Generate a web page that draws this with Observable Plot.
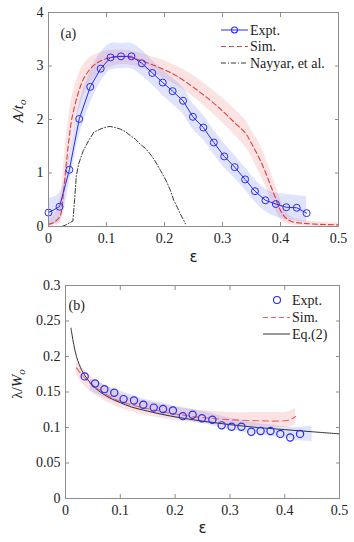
<!DOCTYPE html>
<html><head><meta charset="utf-8">
<script src="https://cdn.jsdelivr.net/npm/d3@7"></script>
<script src="https://cdn.jsdelivr.net/npm/@observablehq/plot@0.6"></script>
<style>
html,body{margin:0;padding:0;background:#fff;}
#chart{width:354px;}
#chart svg{display:block;}
</style></head><body><div id="chart"></div>
<script>
// ---------- Panel (a) data ----------
const aExptX = [0,0.019,0.036,0.053,0.072,0.090,0.107,0.125,0.143,0.161,0.179,0.197,0.214,0.232,0.249,0.267,0.285,0.303,0.321,0.339,0.356,0.374,0.392,0.410,0.428,0.445];
const aExptY = [0.26,0.37,1.06,2.01,2.61,2.95,3.16,3.18,3.18,3.05,2.87,2.69,2.53,2.35,2.05,1.85,1.57,1.31,1.11,0.88,0.66,0.49,0.42,0.36,0.35,0.25];
const aExptLo = [0.02,0.10,0.80,1.70,2.30,2.70,2.92,2.95,2.95,2.82,2.65,2.45,2.28,2.10,1.82,1.62,1.35,1.10,0.90,0.68,0.46,0.28,0.18,0.12,0.10,0.08];
const aExptHi = [0.52,0.62,1.35,2.30,2.90,3.25,3.42,3.42,3.42,3.30,3.10,2.92,2.77,2.60,2.30,2.08,1.80,1.55,1.33,1.10,0.88,0.70,0.62,0.60,0.58,0.56];

const aSimX  = [0,0.01,0.02,0.025,0.03,0.035,0.04,0.05,0.06,0.07,0.08,0.10,0.12,0.14,0.16,0.18,0.20,0.22,0.25,0.28,0.30,0.32,0.34,0.35,0.36,0.37,0.38,0.39,0.40,0.41,0.42,0.44,0.47,0.5];
const aSimY  = [0.04,0.08,0.20,0.55,1.10,1.60,2.00,2.45,2.75,2.92,3.03,3.14,3.18,3.16,3.10,3.02,2.93,2.82,2.60,2.35,2.16,1.95,1.74,1.55,1.35,1.12,0.85,0.57,0.30,0.15,0.09,0.06,0.04,0.03];
const aSimLo = [0,0.02,0.06,0.28,0.70,1.20,1.62,2.08,2.42,2.64,2.79,2.95,3.02,3.02,2.96,2.87,2.76,2.64,2.42,2.14,1.94,1.72,1.48,1.30,1.08,0.86,0.60,0.34,0.14,0.05,0.03,0.01,0,0];
const aSimHi = [0.12,0.22,0.50,1.00,1.60,2.05,2.38,2.78,3.02,3.14,3.21,3.28,3.30,3.28,3.24,3.17,3.10,3.00,2.82,2.58,2.40,2.20,1.98,1.80,1.62,1.40,1.12,0.82,0.50,0.28,0.17,0.11,0.08,0.07];

const aNayX = [0.023,0.030,0.038,0.042,0.045,0.048,0.052,0.060,0.069,0.078,0.089,0.100,0.106,0.115,0.124,0.133,0.141,0.150,0.158,0.167,0.175,0.184,0.193,0.199,0.204,0.210,0.216,0.222,0.227,0.232,0.236];
const aNayY = [0,0.03,0.08,0.10,0.50,0.95,1.17,1.42,1.60,1.76,1.82,1.86,1.87,1.85,1.82,1.77,1.70,1.63,1.54,1.46,1.36,1.22,1.05,0.93,0.83,0.68,0.49,0.36,0.24,0.14,0.05];

const aXTicks = [0,0.1,0.2,0.3,0.4,0.5];
const aYTicks = [0,1,2,3,4];

// ---------- Panel (b) data ----------
const bExptX = [0.035,0.054,0.071,0.089,0.106,0.125,0.142,0.161,0.178,0.196,0.214,0.232,0.249,0.268,0.285,0.303,0.321,0.339,0.356,0.374,0.392,0.410,0.428];
const bExptY = [0.172,0.162,0.154,0.149,0.140,0.138,0.132,0.128,0.126,0.124,0.116,0.118,0.113,0.111,0.103,0.101,0.101,0.094,0.095,0.095,0.091,0.086,0.091];
const bBandX  = [0.045,0.06,0.08,0.10,0.12,0.14,0.16,0.18,0.20,0.22,0.24,0.26,0.28,0.30,0.32,0.34,0.36,0.38,0.40,0.42,0.45];
const bBandLo = [0.152,0.146,0.139,0.133,0.128,0.124,0.120,0.116,0.113,0.110,0.107,0.104,0.100,0.097,0.094,0.091,0.089,0.087,0.085,0.082,0.080];
const bBandHi = [0.168,0.164,0.157,0.151,0.146,0.141,0.137,0.134,0.130,0.127,0.124,0.121,0.117,0.113,0.110,0.107,0.105,0.103,0.101,0.100,0.102];

const bSimX  = [0.02,0.03,0.04,0.05,0.06,0.08,0.10,0.13,0.16,0.20,0.25,0.30,0.35,0.38,0.40,0.41,0.42];
const bSimY  = [0.184,0.174,0.166,0.159,0.154,0.144,0.137,0.130,0.125,0.119,0.114,0.111,0.1095,0.109,0.1095,0.111,0.1155];
const bSimLo = [0.174,0.163,0.155,0.148,0.143,0.134,0.127,0.120,0.115,0.110,0.106,0.103,0.101,0.100,0.100,0.101,0.104];
const bSimHi = [0.194,0.185,0.177,0.170,0.165,0.155,0.148,0.140,0.135,0.129,0.124,0.121,0.121,0.121,0.121,0.123,0.127];

const bEqX = [0.01,0.015,0.02,0.025,0.03,0.04,0.05,0.06,0.08,0.10,0.12,0.15,0.20,0.25,0.30,0.35,0.40,0.45,0.50];
const bEqY = [0.240,0.217,0.200,0.189,0.180,0.168,0.159,0.152,0.142,0.135,0.129,0.123,0.115,0.109,0.104,0.100,0.097,0.094,0.091];

const bXTicks = [0,0.1,0.2,0.3,0.4,0.5];
const bYTicks = [0,0.05,0.1,0.15,0.2,0.25,0.3];

// ---------- helpers ----------
const rows = (xs, cols) => xs.map((x, i) => { const r = {x}; for (const k in cols) r[k] = cols[k][i]; return r; });
const GRAY = "#8c8c8c", INK = "#222";
const SERIF = "'Liberation Serif', 'Times New Roman', Times, serif";
const BLUE = "#2b2bf2", RED = "#e23b3b";
const fmt = d3.format("~g");

function axes(xt, yt, xpad, ypad) {
  return [
    Plot.axisX(xt, {anchor: "bottom", tickSize: -4, tickPadding: xpad, tickFormat: fmt, stroke: GRAY, fill: INK, fontSize: 14, fontFamily: SERIF, label: null}),
    Plot.axisX(xt, {anchor: "top", tickSize: -4, tickFormat: () => "", stroke: GRAY, label: null}),
    Plot.axisY(yt, {anchor: "left", tickSize: -4, tickPadding: ypad, tickFormat: fmt, stroke: GRAY, fill: INK, fontSize: 14, fontFamily: SERIF, label: null}),
    Plot.axisY(yt, {anchor: "right", tickSize: -4, tickFormat: () => "", stroke: GRAY, label: null})
  ];
}

function yLabel(svg, x, y, main, sub) {
  const t = d3.select(svg).append("text")
    .attr("transform", `translate(${x},${y}) rotate(-90)`)
    .attr("text-anchor", "middle")
    .style("font-family", SERIF).attr("font-size", 15).attr("fill", INK);
  for (const [s, it] of main) t.append("tspan").attr("font-style", it ? "italic" : "normal").text(s);
  t.append("tspan").attr("font-style", "italic").attr("font-size", 11).attr("dy", 3).text(sub);
}

function legend(svg, items) {
  const g = d3.select(svg).append("g").style("font-family", SERIF).attr("font-size", 14).attr("fill", INK).attr("text-anchor", "start");
  for (const it of items) {
    if (it.line) g.append("line").attr("x1", it.x1).attr("x2", it.x2).attr("y1", it.y).attr("y2", it.y)
      .attr("stroke", it.stroke).attr("stroke-width", it.sw || 1).attr("stroke-dasharray", it.dash || null);
    if (it.dot) g.append("circle").attr("cx", it.dot).attr("cy", it.y).attr("r", it.r || 3)
      .attr("fill", "none").attr("stroke", BLUE).attr("stroke-width", 1.1);
    g.append("text").attr("x", it.tx).attr("y", it.y).attr("dy", "0.35em").attr("text-anchor", "start").text(it.label);
  }
}

// ---------- Panel (a) ----------
const aExpt = rows(aExptX, {y: aExptY, lo: aExptLo, hi: aExptHi});
const aSim = rows(aSimX, {y: aSimY, lo: aSimLo, hi: aSimHi});
const aNay = rows(aNayX, {y: aNayY});

const svgA = Plot.plot({
  width: 354, height: 270, marginLeft: 48, marginRight: 16, marginTop: 12, marginBottom: 44,
  style: {fontFamily: SERIF, fontSize: "14px", background: "#fff", color: INK},
  x: {domain: [0, 0.5]}, y: {domain: [0, 4]},
  marks: [
    Plot.areaY(aSim, {x: "x", y1: "lo", y2: "hi", fill: "#f05a5a", fillOpacity: 0.17, curve: "catmull-rom"}),
    Plot.areaY(aExpt, {x: "x", y1: "lo", y2: "hi", fill: "#5565f0", fillOpacity: 0.18, curve: "catmull-rom"}),
    Plot.line(aNay, {x: "x", y: "y", stroke: "#222", strokeWidth: 0.9, strokeDasharray: "5,2,1,2"}),
    Plot.line(aSim, {x: "x", y: "y", stroke: RED, strokeWidth: 1.1, strokeDasharray: "5,3", curve: "catmull-rom"}),
    Plot.line(aExpt, {x: "x", y: "y", stroke: BLUE, strokeWidth: 1}),
    Plot.dot(aExpt, {x: "x", y: "y", r: 3.5, stroke: BLUE, fill: "none", strokeWidth: 1}),
    Plot.frame({stroke: GRAY}),
    ...axes(aXTicks, aYTicks, 11, 9),
    Plot.text(["(a)"], {text: d => d, frameAnchor: "top-left", dx: 12, dy: 21, textAnchor: "start", lineAnchor: "middle", fontSize: 14, fontFamily: SERIF, fill: INK}),
    Plot.text(["ε"], {text: d => d, frameAnchor: "bottom", dy: 31, lineAnchor: "middle", fontFamily: "DejaVu Sans", fontSize: 15, fill: INK})
  ]
});
yLabel(svgA, 23, 111, [["A/t", true]], "o");
legend(svgA, [
  {y: 30, line: true, x1: 221, x2: 248, stroke: BLUE, dot: 234.5, r: 3, tx: 250, label: "Expt."},
  {y: 46.5, line: true, x1: 221, x2: 248, stroke: RED, dash: "5,3", tx: 250, label: "Sim."},
  {y: 63, line: true, x1: 221, x2: 248, stroke: "#222", dash: "5,2,1,2", sw: 0.9, tx: 250, label: "Nayyar, et al."}
]);

// ---------- Panel (b) ----------
const bExpt = rows(bExptX, {y: bExptY});
const bBand = rows(bBandX, {lo: bBandLo, hi: bBandHi});
const bSim = rows(bSimX, {y: bSimY, lo: bSimLo, hi: bSimHi});
const bEq = rows(bEqX, {y: bEqY});

const svgB = Plot.plot({
  width: 354, height: 272, marginLeft: 65, marginRight: 15, marginTop: 15, marginBottom: 44,
  style: {fontFamily: SERIF, fontSize: "14px", background: "#fff", color: INK},
  x: {domain: [0, 0.5]}, y: {domain: [0, 0.3]},
  marks: [
    Plot.areaY(bSim, {x: "x", y1: "lo", y2: "hi", fill: "#f05a5a", fillOpacity: 0.17, curve: "catmull-rom"}),
    Plot.areaY(bBand, {x: "x", y1: "lo", y2: "hi", fill: "#5565f0", fillOpacity: 0.18, curve: "catmull-rom"}),
    Plot.line(bSim, {x: "x", y: "y", stroke: "#f06060", strokeWidth: 1.1, strokeDasharray: "6,4", curve: "catmull-rom"}),
    Plot.line(bEq, {x: "x", y: "y", stroke: "#333", strokeWidth: 1, curve: "catmull-rom"}),
    Plot.dot(bExpt, {x: "x", y: "y", r: 3.6, stroke: BLUE, fill: "none", strokeWidth: 1.2}),
    Plot.frame({stroke: GRAY}),
    ...axes(bXTicks, bYTicks, 10.5, 9),
    Plot.text(["(b)"], {text: d => d, frameAnchor: "top-left", dx: 3, dy: 20, textAnchor: "start", lineAnchor: "middle", fontSize: 14, fontFamily: SERIF, fill: INK}),
    Plot.text(["ε"], {text: d => d, frameAnchor: "bottom", dy: 30, lineAnchor: "middle", fontFamily: "DejaVu Sans", fontSize: 15, fill: INK})
  ]
});
yLabel(svgB, 22, 114, [["λ/", false], ["W", true]], "o");
legend(svgB, [
  {y: 30, dot: 277, r: 3.5, tx: 292, label: "Expt."},
  {y: 47.5, line: true, x1: 263, x2: 290, stroke: "#f06060", dash: "5,3", tx: 292, label: "Sim."},
  {y: 64, line: true, x1: 263, x2: 290, stroke: "#333", tx: 292, label: "Eq.(2)"}
]);

document.getElementById("chart").append(svgA, svgB);
</script>
</body></html>
